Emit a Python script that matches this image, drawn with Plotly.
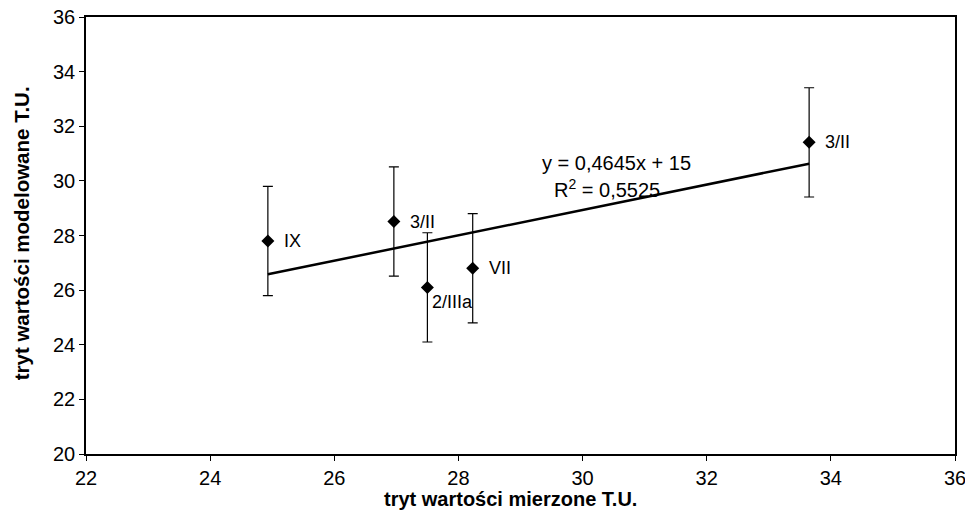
import plotly.graph_objects as go

# Data
measured = [24.93, 26.96, 27.50, 28.23, 33.65]
modelled = [27.80, 28.51, 26.10, 26.80, 31.41]
err = [2.0, 2.0, 2.0, 2.0, 2.0]
labels = ["IX", "3/II", "2/IIIa", "VII", "3/II"]
slope, intercept = 0.4645, 15.0
r2_text = "0,5525"
eq_text = "y = 0,4645x + 15"
x_ticks = [22, 24, 26, 28, 30, 32, 34, 36]
y_ticks = [20, 22, 24, 26, 28, 30, 32, 34, 36]
x_title = "tryt wartości mierzone T.U."
y_title = "tryt wartości modelowane T.U."

FONT = "Liberation Sans, Arial, sans-serif"

fig = go.Figure()

xmin, xmax = min(measured), max(measured)
fig.add_trace(go.Scatter(
    x=[xmin, xmax], y=[slope * xmin + intercept, slope * xmax + intercept],
    mode="lines", line=dict(color="black", width=2.5), showlegend=False, hoverinfo="skip"))

fig.add_trace(go.Scatter(
    x=measured, y=modelled, mode="markers",
    marker=dict(symbol="diamond", size=10, color="black"),
    error_y=dict(type="data", array=err, visible=True, color="black", thickness=1.2, width=5),
    showlegend=False))

# point labels
offsets = {"2/IIIa": (3, -15)}
for x, y, lab in zip(measured, modelled, labels):
    dx, dy = offsets.get(lab, (14, 0))
    fig.add_annotation(x=x, y=y, text=lab, showarrow=False, xanchor="left", yanchor="middle",
                       xshift=dx, yshift=dy, font=dict(family=FONT, size=18, color="black"))

fig.add_annotation(x=30.55, y=30.2, text=eq_text, showarrow=False, xanchor="center", yanchor="middle",
                   yshift=12, font=dict(family=FONT, size=20, color="black"))
fig.add_annotation(x=30.4, y=30.2, text="R<sup>2</sup> = " + r2_text, showarrow=False,
                   xanchor="center", yanchor="middle", yshift=-13,
                   font=dict(family=FONT, size=20, color="black"))

# axis titles
fig.add_annotation(x=0.489, y=0, xref="paper", yref="paper", text="<b>" + x_title + "</b>",
                   showarrow=False, xanchor="center", yanchor="middle", yshift=-45,
                   font=dict(family=FONT, size=20, color="black"))
fig.add_annotation(x=0, y=0.505, xref="paper", yref="paper", text="<b>" + y_title + "</b>",
                   showarrow=False, xanchor="center", yanchor="middle", xshift=-65, textangle=-90,
                   font=dict(family=FONT, size=20.5, color="black"))

axis_common = dict(showgrid=False, zeroline=False, showline=True, linecolor="black", linewidth=1.5,
                   mirror=True, ticks="outside", ticklen=5, tickcolor="black", automargin=False,
                   ticklabeloverflow="allow",
                   tickfont=dict(family=FONT, size=20, color="black"))

fig.update_xaxes(range=[22, 36], tickvals=x_ticks, **axis_common)
fig.update_yaxes(range=[20, 36], tickvals=y_ticks, **axis_common)

fig.update_layout(width=965, height=513, paper_bgcolor="white", plot_bgcolor="white",
                  margin=dict(l=86, r=10, t=17, b=59), showlegend=False)

fig.write_html("out.html")
